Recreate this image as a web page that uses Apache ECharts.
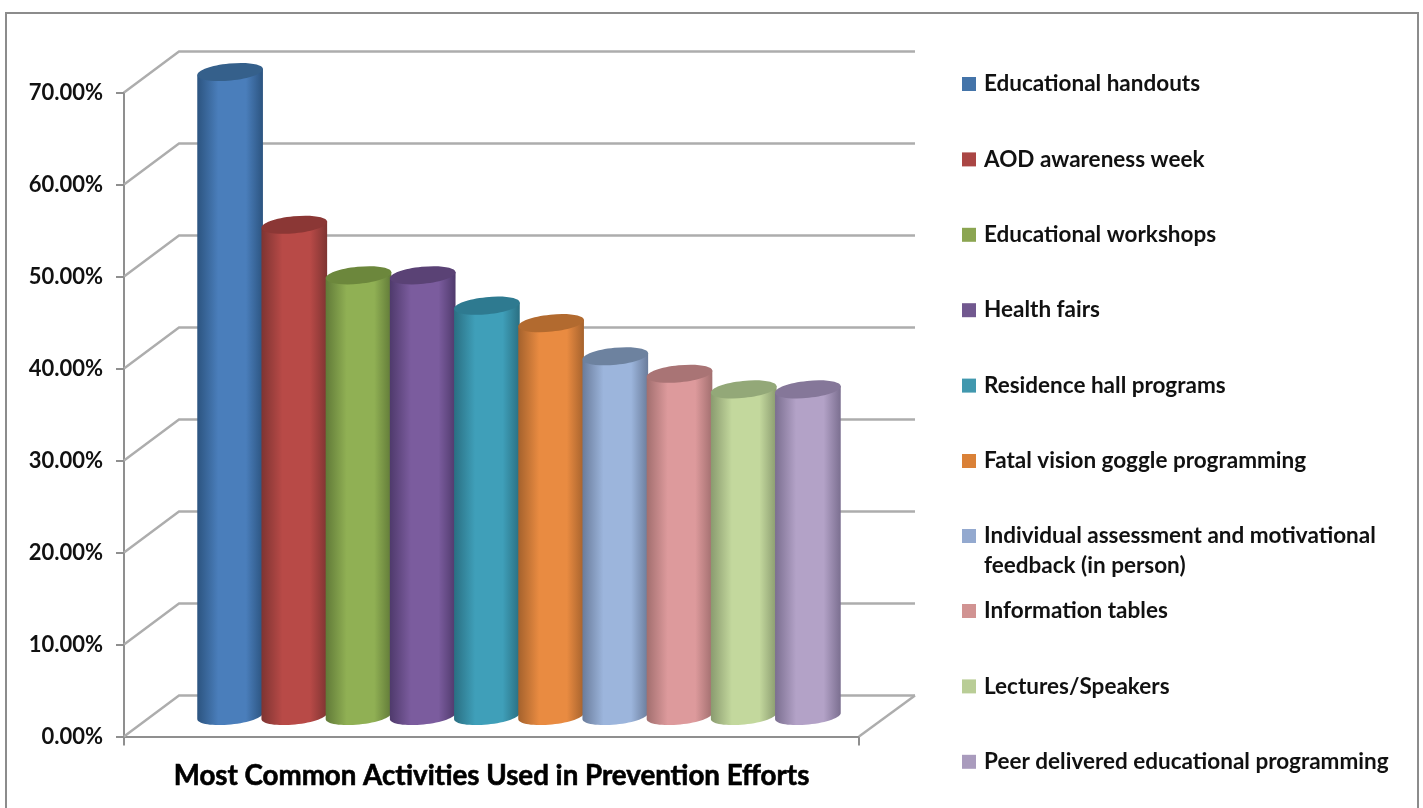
<!DOCTYPE html>
<html>
<head>
<meta charset="utf-8">
<style>html,body{margin:0;padding:0;background:#fff}#chart{width:1423px;height:808px}</style>
<script src="https://cdn.jsdelivr.net/npm/echarts@6/dist/echarts.min.js"></script>
</head>
<body>
<div id="chart"></div>
<script>
const chartTitle = 'Most Common Activities Used in Prevention Efforts';
const activities = [
  'Educational handouts', 'AOD awareness week', 'Educational workshops', 'Health fairs',
  'Residence hall programs', 'Fatal vision goggle programming',
  'Individual assessment and motivational\nfeedback (in person)',
  'Information tables', 'Lectures/Speakers', 'Peer delivered educational programming'
];
const shares = [70.0, 53.4, 47.9, 47.9, 44.6, 42.7, 39.1, 37.2, 35.5, 35.5];
const bodyMid = ['#4a7ebb','#b84a47','#90b054','#7b5c9e','#3f9fb9','#e98b41','#9cb5dc','#dd9a9c','#c3d89d','#b3a2c7'];
const bodyEdge = ['#2c5480','#7e3432','#617a38','#4f3a6c','#2a6f82','#a5622d','#6a7c9b','#a26f6f','#8a9b6f','#7b6f90'];
const capColour = ['#35608b','#8b3735','#6c873c','#5a4275','#2e7a90','#b26a2f','#6d829f','#a97475','#93a878','#857799'];
const legendColour = ['#4474a9','#aa4644','#8ba551','#71588f','#4198ae','#da8137','#93a9cf','#d19392','#b9cd96','#a99bbd'];
const axisTicks = [0, 10, 20, 30, 40, 50, 60, 70];

// Oblique projection used for the pseudo-3D box
const DEPTH_X = 55, DEPTH_Y = -41;
const BAR_STEP = 64.2, CAP_RX = 33, CAP_RY = 8.5, TILT = 0.1;
const WALL = '#adadad', AXIS = '#8f8f8f';
const LABEL_FONT = 'Lato';

function ellipsePoint(cx, cy, t) {
  const px = CAP_RX * Math.cos(t), py = CAP_RY * Math.sin(t);
  return [cx + px * Math.cos(TILT) + py * Math.sin(TILT), cy - px * Math.sin(TILT) + py * Math.cos(TILT)];
}

function cylinder(index) {
  return function (params, api) {
    const top = api.coord([0, api.value(1)]);
    const base = api.coord([0, 0]);
    const cx = top[0] + DEPTH_X / 2 + (index - 4.5) * BAR_STEP;
    const yTop = top[1] + DEPTH_Y / 2, yBase = base[1] + DEPTH_Y / 2;
    const outline = [ellipsePoint(cx, yTop, Math.PI)];
    for (let k = 0; k <= 32; k++) outline.push(ellipsePoint(cx, yBase, Math.PI - Math.PI * k / 32));
    outline.push(ellipsePoint(cx, yTop, 0));
    return {
      type: 'group',
      children: [
        {
          type: 'polygon', shape: { points: outline },
          style: {
            fill: new echarts.graphic.LinearGradient(0, 0, 1, 0, [
              { offset: 0, color: bodyEdge[index] },
              { offset: 0.32, color: bodyMid[index] },
              { offset: 0.74, color: bodyMid[index] },
              { offset: 1, color: bodyEdge[index] }
            ])
          }
        },
        {
          type: 'ellipse', x: cx, y: yTop, rotation: TILT,
          shape: { cx: 0, cy: 0, rx: CAP_RX, ry: CAP_RY },
          style: { fill: capColour[index] }
        }
      ]
    };
  };
}

function wallLines(params, api) {
  const p = api.coord([0, api.value(1)]);
  const left = params.coordSys.x, right = left + params.coordSys.width;
  const y = p[1];
  const lineStyle = { stroke: WALL, lineWidth: 2.4, fill: 'none' };
  const children = [{
    type: 'polyline',
    shape: { points: [[left, y], [left + DEPTH_X, y + DEPTH_Y], [right + DEPTH_X + 1, y + DEPTH_Y]] },
    style: lineStyle
  }];
  if (api.value(1) === 0) {
    children.push({
      type: 'line',
      shape: { x1: right, y1: y, x2: right + DEPTH_X + 1, y2: y + DEPTH_Y },
      style: lineStyle
    });
  }
  return { type: 'group', children };
}

const legendBase = {
  orient: 'vertical', left: 962, selectedMode: false, icon: 'rect',
  itemWidth: 14, itemHeight: 14, itemGap: 41.4, padding: 0,
  formatter: name => name,
  textStyle: { fontFamily: LABEL_FONT, fontWeight: 'bold', fontSize: 22.5, color: '#111', lineHeight: 30, padding: [4, 0, 0, 3] }
};

const option = {
  backgroundColor: '#fff',
  animation: false,
  grid: { left: 124, top: 92.5, width: 735, height: 644, containLabel: false },
  graphic: [{
    type: 'rect', silent: true, z: -1,
    shape: { x: 6, y: 13, width: 1412, height: 820 },
    style: { fill: '#fff', stroke: '#8c8c8c', lineWidth: 2 }
  }],
  legend: [
    { ...legendBase, top: 67, data: activities.slice(0, 6) },
    // A leading blank line keeps the marker level with the first line of this two-line entry
    { ...legendBase, top: 489, data: [activities[6]], formatter: name => '\n' + name },
    { ...legendBase, top: 594, data: activities.slice(7) }
  ],
  xAxis: {
    type: 'category',
    data: [chartTitle],
    axisLine: { lineStyle: { color: AXIS, width: 2 } },
    axisTick: { show: true, length: 9, lineStyle: { color: AXIS, width: 2 }, alignWithLabel: false },
    axisLabel: {
      margin: 26, fontFamily: LABEL_FONT, fontWeight: 'bold', fontSize: 27.7, color: '#000', interval: 0,
      textBorderColor: '#000', textBorderWidth: 0.6
    }
  },
  yAxis: {
    type: 'value', min: 0, max: 70, interval: 10,
    axisLine: { show: true, lineStyle: { color: AXIS, width: 2 } },
    axisTick: { show: true, length: 8, lineStyle: { color: AXIS, width: 2 } },
    splitLine: { show: false },
    axisLabel: {
      margin: 21, fontFamily: LABEL_FONT, fontWeight: 'bold', fontSize: 22, color: '#111',
      padding: [4, 0, 0, 0],
      formatter: v => v.toFixed(2) + '%'
    }
  },
  series: [
    {
      type: 'custom', name: 'wall', renderItem: wallLines, silent: true, z: 1,
      encode: { x: 0, y: 1 },
      data: axisTicks.map(t => [0, t])
    },
    ...activities.map((name, i) => ({
      type: 'custom', name, z: 2,
      renderItem: cylinder(i),
      itemStyle: { color: legendColour[i] },
      encode: { x: 0, y: 1 },
      data: [[0, shares[i]]]
    }))
  ]
};

echarts.init(document.getElementById('chart'), null, { renderer: 'canvas' }).setOption(option);
</script>
</body>
</html>
